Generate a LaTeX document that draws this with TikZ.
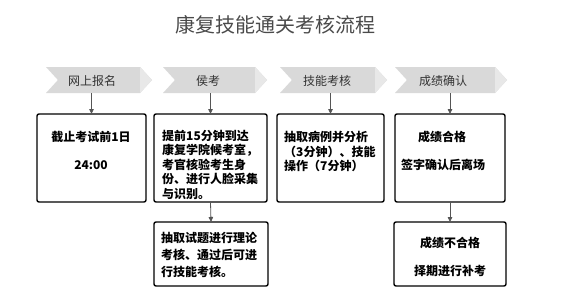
\documentclass[tikz,border=0pt]{standalone}
\usepackage{fontspec}
\setmainfont{Noto Sans CJK SC}
\usetikzlibrary{shapes.symbols,arrows.meta,calc}
\definecolor{chev}{HTML}{D9D9D9}
\definecolor{chevtip}{HTML}{E8E8E8}
\definecolor{chevtxt}{HTML}{333333}
\definecolor{arrcol}{HTML}{555555}
\definecolor{titlecol}{HTML}{4A4A4A}
\tikzset{
  chevron/.style={shape=signal, signal to=east, signal from=west, signal pointer angle=95,
    fill=chev, draw=none, minimum height=26pt, inner sep=0pt, outer sep=0pt},
  chevtext/.style={text=chevtxt, font={\fontsize{12}{14}\selectfont}, inner sep=0pt},
  box/.style={draw=black, line width=1.4pt, rounded corners=2pt, inner sep=0pt, outer sep=0pt},
  boxtext/.style={text=black, font={\fontsize{12}{14.5}\selectfont\bfseries}, inner sep=0pt, align=left},
  conn/.style={draw=arrcol, line width=0.8pt, -{Triangle[length=5pt,width=4.5pt]}}
}
\begin{document}
\begin{tikzpicture}[x=1pt,y=-1pt]
\useasboundingbox (0,0) rectangle (584,303);
\node[text=titlecol, font={\fontsize{20}{24}\selectfont}, inner sep=0pt] (title) at (275,25) {康复技能通关考核流程};
% chevrons
\foreach \n/\cx/\w in {c1/99/106, c2/215/104, c3/333.5/107, c4/451/112}{
  \node[chevron, minimum width=\w pt] (\n) at (\cx,80) {};
  \fill[chevtip] ($(\n.east)+(-12,-13)$) -- (\n.east) -- ($(\n.east)+(-12,13)$) -- cycle;
}
\node[chevtext] (ct1) at (92,81) {网上报名};
\node[chevtext] (ct2) at (208,81) {侯考};
\node[chevtext] (ct3) at (327,81) {技能考核};
\node[chevtext] (ct4) at (443,81) {成绩确认};
% boxes
\node[box, minimum width=109pt, minimum height=88pt] (b1) at (91.5,158) {};
\node[box, minimum width=113pt, minimum height=88pt] (b2) at (210.5,158) {};
\node[box, minimum width=107pt, minimum height=88pt] (b3) at (330.5,158) {};
\node[box, minimum width=110pt, minimum height=88pt] (b4) at (450,158) {};
\node[box, minimum width=114pt, minimum height=64pt] (b5) at (211,254) {};
\node[box, minimum width=112pt, minimum height=64pt] (b6) at (450,254) {};
% texts
\node[boxtext] (t1a) at (91,137) {截止考试前1日};
\node[boxtext] (t1b) at (91,165) {24:00};
\node[boxtext, anchor=north west] (t2) at (162,130) {提前15分钟到达\\康复学院候考室，\\考官核验考生身\\份、进行人脸采集\\与识别。};
\node[boxtext, anchor=north west] (t3) at (284,131) {抽取病例并分析\\（3分钟）、技能\\操作（7分钟）};
\node[boxtext] (t4a) at (442,137) {成绩合格};
\node[boxtext] (t4b) at (443,165) {签字确认后离场};
\node[boxtext, anchor=north west, font={\fontsize{12}{17}\selectfont\bfseries}] (t5) at (161,232) {抽取试题进行理论\\考核、通过后可进\\行技能考核。};
\node[boxtext] (t6a) at (450,243) {成绩不合格};
\node[boxtext] (t6b) at (450,271) {择期进行补考};
% connectors
\draw[conn] (b1.north |- c1.south) -- (b1.north);
\draw[conn] (b2.north |- c2.south) -- (b2.north);
\draw[conn] (b3.north |- c3.south) -- (b3.north);
\draw[conn] (b4.north |- c4.south) -- (b4.north);
\draw[conn] (b2.south) -- (b5.north);
\draw[conn] (b4.south) -- (b6.north);
\end{tikzpicture}
\end{document}
